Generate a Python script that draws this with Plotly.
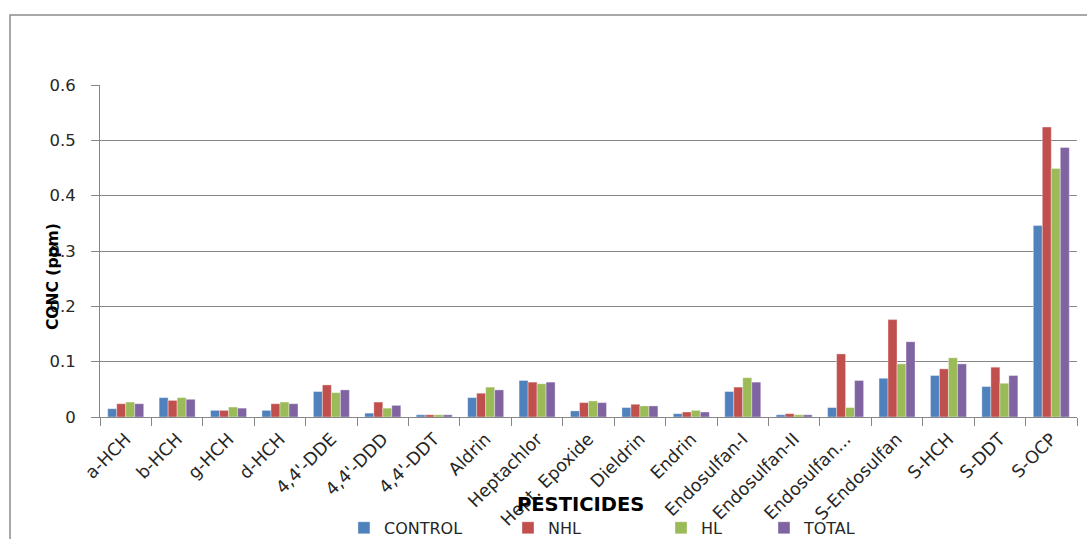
import plotly.graph_objects as go

categories = ["a-HCH", "b-HCH", "g-HCH", "d-HCH", "4,4'-DDE", "4,4'-DDD", "4,4'-DDT",
              "Aldrin", "Heptachlor", "Hept. Epoxide", "Dieldrin", "Endrin",
              "Endosulfan-I", "Endosulfan-II", "Endosulfan...", "S-Endosulfan",
              "S-HCH", "S-DDT", "S-OCP"]

control = [0.015, 0.035, 0.012, 0.012, 0.046, 0.007, 0.004, 0.035, 0.066, 0.011,
           0.017, 0.006, 0.046, 0.004, 0.017, 0.070, 0.075, 0.055, 0.346]
nhl = [0.024, 0.030, 0.012, 0.024, 0.058, 0.027, 0.004, 0.043, 0.063, 0.026,
       0.023, 0.009, 0.054, 0.006, 0.114, 0.176, 0.087, 0.090, 0.524]
hl = [0.027, 0.035, 0.018, 0.027, 0.044, 0.016, 0.004, 0.054, 0.060, 0.029,
      0.020, 0.012, 0.071, 0.004, 0.017, 0.096, 0.107, 0.061, 0.449]
total = [0.024, 0.032, 0.016, 0.024, 0.049, 0.021, 0.004, 0.049, 0.063, 0.026,
         0.020, 0.009, 0.063, 0.004, 0.066, 0.136, 0.096, 0.075, 0.487]

series_names = ["CONTROL", "NHL", "HL", "TOTAL"]
series_values = [control, nhl, hl, total]
colors = ["#4F81BD", "#C0504D", "#9BBB59", "#8064A2"]
legend_ids = ["legend", "legend2", "legend3", "legend4"]
legend_x = [0.2497, 0.4176, 0.5742, 0.6796]

FONT = "DejaVu Sans"
TXT = "#262626"

fig = go.Figure()
for name, vals, col, lid in zip(series_names, series_values, colors, legend_ids):
    fig.add_trace(go.Bar(x=categories, y=vals, name=name, legend=lid,
                         marker=dict(color=col, line=dict(width=0.6, color="rgba(255,255,255,0.6)"))))

legend_common = dict(orientation="h", yanchor="middle", y=-0.334, xanchor="left",
                     font=dict(family=FONT, size=16, color=TXT),
                     bgcolor="rgba(0,0,0,0)", itemwidth=30)

layout_legends = {}
for lid, lx in zip(legend_ids, legend_x):
    d = dict(legend_common)
    d["x"] = lx
    layout_legends[lid] = d

fig.update_layout(
    width=1087, height=539, autosize=False,
    margin=dict(l=100, r=10, t=85, b=122, pad=0, autoexpand=False),
    paper_bgcolor="white", plot_bgcolor="white",
    barmode="group", bargap=0.3, bargroupgap=0,
    font=dict(family=FONT, size=16, color=TXT),
    showlegend=True,
    xaxis=dict(
        type="category", tickangle=-45, tickson="boundaries", automargin=False,
        ticks="outside", ticklen=8, tickcolor="#868686",
        showline=True, linecolor="#868686", linewidth=1,
        showgrid=False, ticklabelstandoff=4,
        tickfont=dict(family=FONT, size=17.5, color=TXT),
    ),
    yaxis=dict(
        range=[0, 0.6], tickvals=[0, 0.1, 0.2, 0.3, 0.4, 0.5, 0.6],
        ticktext=["0", "0.1", "0.2", "0.3", "0.4", "0.5", "0.6"], automargin=False,
        ticks="outside", ticklen=8, tickcolor="#868686",
        showline=True, linecolor="#868686", linewidth=1,
        showgrid=True, gridcolor="#868686", gridwidth=1,
        zeroline=False, ticklabelstandoff=12,
        tickfont=dict(family=FONT, size=16.5, color=TXT),
    ),
    annotations=[
        dict(text="<b>CONC (ppm)</b>", xref="paper", yref="paper", x=-0.0481, y=0.4217,
             textangle=-90, showarrow=False, xanchor="center", yanchor="middle",
             font=dict(family=FONT, size=15.5, color="#000000")),
        dict(text="<b>PESTICIDES</b>", xref="paper", yref="paper", x=0.4923, y=-0.265,
             showarrow=False, xanchor="center", yanchor="middle",
             font=dict(family=FONT, size=19.5, color="#000000")),
    ],
    shapes=[
        dict(type="rect", xref="paper", yref="paper", x0=-0.0921, x1=1.5, y0=-1.0, y1=1.2108,
             line=dict(color="#8C8C8C", width=1.5), fillcolor="rgba(0,0,0,0)", layer="below"),
    ],
    **layout_legends,
)

fig.write_html("out.html")
